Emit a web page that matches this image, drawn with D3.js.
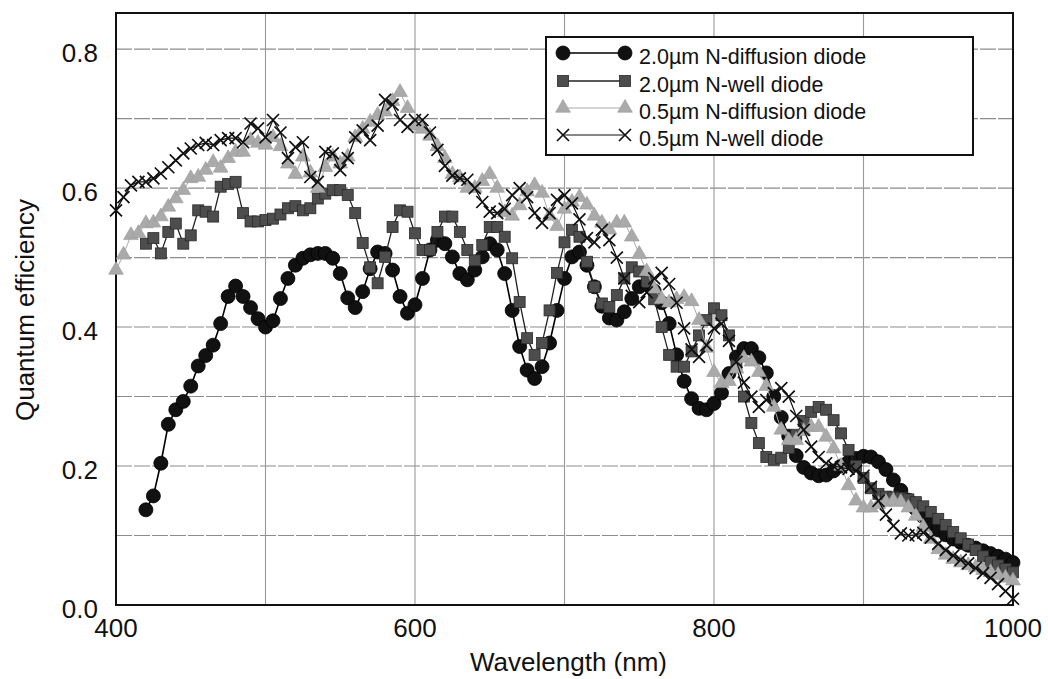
<!DOCTYPE html>
<html lang="en">
<head>
<meta charset="UTF-8">
<title>Quantum efficiency</title>
<script src="https://d3js.org/d3.v7.min.js"></script>
<style>
  body { margin: 0; background: #fff; }
  text { font-family: "Liberation Sans", Arial, Helvetica, sans-serif; fill: #111; }
</style>
</head>
<body>
<div id="chart"></div>
<script>
// wavelengths (nm), 5 nm steps
const wlFrom400 = d3.range(400, 1001, 5);
const wlFrom420 = d3.range(420, 1001, 5);

// 2.0um N-diffusion diode (420..1000)
const nDiff20 = [
  0.137,0.157,0.204,0.26,0.281,0.293,0.315,0.344,0.359,0.374,   // 420-465
  0.405,0.444,0.459,0.444,0.428,0.412,0.40,0.409,0.441,0.47,    // 470-515
  0.489,0.499,0.504,0.506,0.506,0.499,0.477,0.442,0.428,0.451,  // 520-565
  0.484,0.508,0.506,0.482,0.444,0.42,0.432,0.47,0.511,0.525,    // 570-615
  0.52,0.501,0.477,0.468,0.482,0.501,0.52,0.511,0.477,0.424,    // 620-665
  0.372,0.338,0.326,0.343,0.377,0.424,0.47,0.501,0.508,0.489,   // 670-715
  0.458,0.43,0.413,0.41,0.422,0.441,0.458,0.462,0.452,0.435,    // 720-765
  0.405,0.36,0.322,0.297,0.283,0.281,0.29,0.305,0.333,0.357,    // 770-815
  0.369,0.369,0.356,0.334,0.30,0.27,0.243,0.215,0.198,0.19,     // 820-865
  0.186,0.187,0.193,0.2,0.206,0.211,0.214,0.213,0.206,0.195,    // 870-915
  0.18,0.165,0.151,0.138,0.127,0.117,0.108,0.101,0.095,0.09,    // 920-965
  0.086,0.082,0.078,0.074,0.07,0.066,0.061                      // 970-1000
];

// 2.0um N-well diode (420..1000)
const nWell20 = [
  0.52,0.528,0.506,0.537,0.549,0.52,0.532,0.568,0.566,0.559,    // 420-465
  0.602,0.606,0.609,0.564,0.552,0.552,0.554,0.556,0.562,0.571,  // 470-515
  0.574,0.568,0.571,0.585,0.592,0.597,0.597,0.59,0.564,0.521,   // 520-565
  0.486,0.463,0.501,0.544,0.568,0.566,0.535,0.511,0.511,0.537,  // 570-615
  0.559,0.559,0.537,0.511,0.496,0.518,0.544,0.544,0.53,0.499,   // 620-665
  0.436,0.384,0.36,0.377,0.424,0.478,0.522,0.54,0.53,0.494,     // 670-715
  0.458,0.434,0.429,0.446,0.47,0.486,0.48,0.465,0.44,0.40,      // 720-765
  0.36,0.343,0.343,0.365,0.388,0.41,0.427,0.417,0.388,0.345,    // 770-815
  0.30,0.262,0.233,0.213,0.209,0.212,0.226,0.245,0.265,0.278,   // 820-865
  0.285,0.281,0.266,0.247,0.223,0.2,0.183,0.168,0.16,0.156,     // 870-915
  0.155,0.154,0.152,0.148,0.142,0.134,0.124,0.115,0.105,0.096,  // 920-965
  0.087,0.079,0.07,0.062,0.057,0.052,0.047                      // 970-1000
];

// 0.5um N-diffusion diode (400..1000)
const nDiff05 = [
  0.482,0.504,0.532,0.535,0.549,0.55,0.559,0.573,0.585,0.597,   // 400-445
  0.614,0.616,0.626,0.637,0.629,0.643,0.652,0.652,0.669,0.665,  // 450-495
  0.662,0.673,0.66,0.635,0.62,0.645,0.622,0.60,0.63,0.645,      // 500-545
  0.635,0.645,0.673,0.685,0.695,0.705,0.71,0.725,0.738,0.715,   // 550-595
  0.69,0.685,0.675,0.66,0.643,0.62,0.615,0.60,0.60,0.61,        // 600-645
  0.62,0.60,0.565,0.56,0.575,0.595,0.604,0.593,0.56,0.545,      // 650-695
  0.57,0.58,0.587,0.576,0.56,0.55,0.54,0.55,0.55,0.53,          // 700-745
  0.505,0.48,0.455,0.44,0.435,0.44,0.443,0.437,0.41,0.37,       // 750-795
  0.335,0.319,0.322,0.34,0.355,0.35,0.335,0.315,0.285,0.252,    // 800-845
  0.237,0.237,0.25,0.256,0.256,0.242,0.225,0.2,0.172,0.15,      // 850-895
  0.14,0.14,0.145,0.148,0.15,0.148,0.14,0.128,0.112,0.095,      // 900-945
  0.08,0.072,0.066,0.061,0.057,0.054,0.05,0.047,0.043,0.039,    // 950-995
  0.035                                                         // 1000
];

// 0.5um N-well diode (400..1000)
const nWell05 = [
  0.568,0.587,0.604,0.609,0.609,0.614,0.621,0.63,0.64,0.65,     // 400-445
  0.657,0.662,0.665,0.662,0.669,0.672,0.672,0.666,0.693,0.686,  // 450-495
  0.673,0.698,0.68,0.643,0.659,0.666,0.616,0.609,0.652,0.65,    // 500-545
  0.626,0.643,0.673,0.683,0.669,0.69,0.727,0.72,0.698,0.688,    // 550-595
  0.698,0.698,0.68,0.655,0.632,0.618,0.614,0.612,0.6,0.58,      // 600-645
  0.566,0.564,0.57,0.59,0.6,0.587,0.564,0.55,0.564,0.583,       // 650-695
  0.59,0.578,0.555,0.528,0.522,0.54,0.525,0.50,0.47,0.445,      // 700-745
  0.436,0.45,0.47,0.478,0.462,0.435,0.398,0.368,0.357,0.374,    // 750-795
  0.398,0.405,0.38,0.35,0.32,0.30,0.285,0.295,0.305,0.312,      // 800-845
  0.30,0.272,0.252,0.228,0.213,0.204,0.2,0.198,0.196,0.193,     // 850-895
  0.186,0.17,0.15,0.13,0.114,0.103,0.1,0.101,0.104,0.097,       // 900-945
  0.088,0.079,0.071,0.065,0.06,0.053,0.046,0.039,0.03,0.02,     // 950-995
  0.009                                                         // 1000
];

const xTicks = [400, 600, 800, 1000];
const yTicks = [0.0, 0.2, 0.4, 0.6, 0.8];
const xGrid = [500, 600, 700, 800, 900];
const yGrid = [0.1, 0.2, 0.3, 0.4, 0.5, 0.6, 0.7, 0.8];

const series = [
  {name: "2.0\u00b5m N-diffusion diode", wl: wlFrom420, v: nDiff20, marker: "circle",   line: "#000", lw: 1.6, fill: "#111"},
  {name: "2.0\u00b5m N-well diode",      wl: wlFrom420, v: nWell20, marker: "square",   line: "#222", lw: 1.3, fill: "#4d4d4d"},
  {name: "0.5\u00b5m N-diffusion diode", wl: wlFrom400, v: nDiff05, marker: "triangle", line: "#aaa", lw: 1.0, fill: "#aaa"},
  {name: "0.5\u00b5m N-well diode",      wl: wlFrom400, v: nWell05, marker: "cross",    line: "#111", lw: 1.2, fill: "none"}
];

const W = 1048, H = 679;
const m = {left: 116, right: 1013, top: 13, bottom: 605};

const x = d3.scaleLinear().domain([400, 1000]).range([m.left, m.right]);
const y = d3.scaleLinear().domain([0, 0.852]).range([m.bottom, m.top]);

const svg = d3.select("#chart").append("svg").attr("width", W).attr("height", H);

// grid
svg.append("g").selectAll("line").data(yGrid).enter().append("line")
  .attr("x1", m.left).attr("x2", m.right)
  .attr("y1", d => y(d)).attr("y2", d => y(d))
  .attr("stroke", "#8c8c8c").attr("stroke-width", 1.1)
  .attr("stroke-dasharray", "16,2");
svg.append("g").selectAll("line").data(xGrid).enter().append("line")
  .attr("x1", d => x(d)).attr("x2", d => x(d))
  .attr("y1", m.top).attr("y2", m.bottom)
  .attr("stroke", "#999").attr("stroke-width", 1.1);

// frame
svg.append("rect").attr("x", m.left).attr("y", m.top)
  .attr("width", m.right - m.left).attr("height", m.bottom - m.top)
  .attr("fill", "none").attr("stroke", "#111").attr("stroke-width", 2);

// tick labels
svg.append("g").selectAll("text").data(yTicks).enter().append("text")
  .attr("x", 98).attr("y", d => y(d) + 4)
  .attr("text-anchor", "end").attr("dominant-baseline", "central")
  .style("font-size", "26px")
  .text(d => d.toFixed(1));
svg.append("g").selectAll("text").data(xTicks).enter().append("text")
  .attr("x", d => x(d)).attr("y", 637)
  .attr("text-anchor", "middle")
  .style("font-size", "26px")
  .text(d => d);

// axis titles
svg.append("text").attr("x", (m.left + m.right) / 2 + 4).attr("y", 671)
  .attr("text-anchor", "middle").style("font-size", "26px")
  .text("Wavelength (nm)");
svg.append("text")
  .attr("transform", "translate(34,310) rotate(-90)")
  .attr("text-anchor", "middle").style("font-size", "26px")
  .text("Quantum efficiency");

// markers
function drawMarker(g, type, s) {
  if (type === "circle") {
    g.append("circle").attr("r", 7).attr("fill", s.fill).attr("stroke", "#000").attr("stroke-width", 0.8);
  } else if (type === "square") {
    g.append("rect").attr("x", -5.5).attr("y", -5.5).attr("width", 11).attr("height", 11)
      .attr("fill", s.fill).attr("stroke", "#2a2a2a").attr("stroke-width", 0.8);
  } else if (type === "triangle") {
    g.append("path").attr("d", d3.symbol().type(d3.symbolTriangle).size(95)())
      .attr("fill", s.fill).attr("stroke", "#9a9a9a").attr("stroke-width", 0.6);
  } else {
    g.append("path").attr("d", "M-6,-6L6,6M-6,6L6,-6")
      .attr("fill", "none").attr("stroke", "#111").attr("stroke-width", 1.7);
  }
}

const line = d3.line().x(d => x(d[0])).y(d => y(d[1]));

series.forEach(s => {
  const pts = s.wl.map((w, i) => [w, s.v[i]]);
  const g = svg.append("g");
  g.append("path").datum(pts).attr("d", line)
    .attr("fill", "none").attr("stroke", s.line).attr("stroke-width", s.lw);
  g.selectAll("g.m").data(pts).enter().append("g")
    .attr("class", "m")
    .attr("transform", d => `translate(${x(d[0])},${y(d[1])})`)
    .each(function() { drawMarker(d3.select(this), s.marker, s); });
});

// legend
const lg = svg.append("g");
lg.append("rect").attr("x", 546).attr("y", 37).attr("width", 427).attr("height", 118)
  .attr("fill", "#fff").attr("stroke", "#111").attr("stroke-width", 2);
const rowY = [53, 81, 108, 135];
series.forEach((s, i) => {
  const ry = rowY[i];
  lg.append("line").attr("x1", 563).attr("x2", 625).attr("y1", ry).attr("y2", ry)
    .attr("stroke", s.line).attr("stroke-width", s.lw);
  [563, 625].forEach(mx => {
    const mk = lg.append("g").attr("transform", `translate(${mx},${ry})`);
    drawMarker(mk, s.marker, s);
  });
  lg.append("text").attr("x", 639).attr("y", ry + 4)
    .attr("dominant-baseline", "central").style("font-size", "21.5px")
    .text(s.name);
});
</script>
</body>
</html>
